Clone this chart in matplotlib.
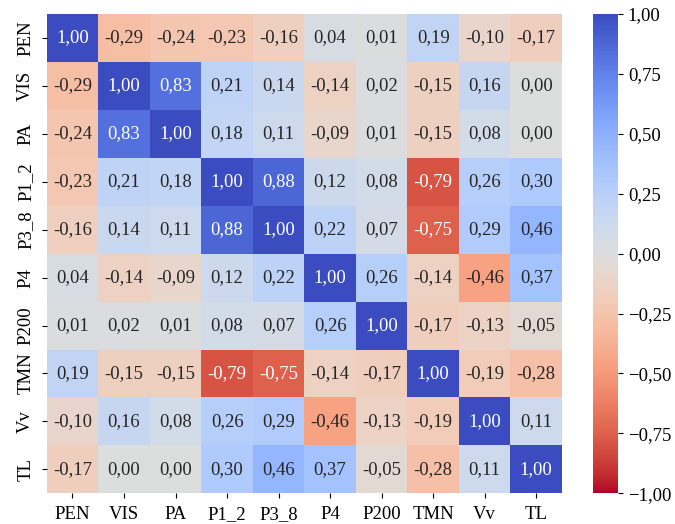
import numpy as np
import matplotlib
matplotlib.use("Agg")
import matplotlib.pyplot as plt
import seaborn as sns
from matplotlib.ticker import FuncFormatter

labels = ["PEN", "VIS", "PA", "P1_2", "P3_8", "P4", "P200", "TMN", "Vv", "TL"]

pen  = [1.00, -0.29, -0.24, -0.23, -0.16, 0.04, 0.01, 0.19, -0.10, -0.17]
vis  = [-0.29, 1.00, 0.83, 0.21, 0.14, -0.14, 0.02, -0.15, 0.16, 0.00]
pa   = [-0.24, 0.83, 1.00, 0.18, 0.11, -0.09, 0.01, -0.15, 0.08, 0.00]
p1_2 = [-0.23, 0.21, 0.18, 1.00, 0.88, 0.12, 0.08, -0.79, 0.26, 0.30]
p3_8 = [-0.16, 0.14, 0.11, 0.88, 1.00, 0.22, 0.07, -0.75, 0.29, 0.46]
p4   = [0.04, -0.14, -0.09, 0.12, 0.22, 1.00, 0.26, -0.14, -0.46, 0.37]
p200 = [0.01, 0.02, 0.01, 0.08, 0.07, 0.26, 1.00, -0.17, -0.13, -0.05]
tmn  = [0.19, -0.15, -0.15, -0.79, -0.75, -0.14, -0.17, 1.00, -0.19, -0.28]
vv   = [-0.10, 0.16, 0.08, 0.26, 0.29, -0.46, -0.13, -0.19, 1.00, 0.11]
tl   = [-0.17, 0.00, 0.00, 0.30, 0.46, 0.37, -0.05, -0.28, 0.11, 1.00]

cbar_ticks = [-1.0, -0.75, -0.5, -0.25, 0.0, 0.25, 0.5, 0.75, 1.0]

data = np.array([pen, vis, pa, p1_2, p3_8, p4, p200, tmn, vv, tl])
annot = np.array([[f"{v:.2f}".replace(".", ",") for v in row] for row in data])

plt.rcParams['font.family'] = ['Liberation Serif', 'DejaVu Serif']
FS = 13.5

fig = plt.figure(figsize=(6.75, 5.24), dpi=100)
ax = fig.add_axes([0.0692, 0.0586, 0.7634, 0.9147])
cax = fig.add_axes([0.8781, 0.0586, 0.0375, 0.9147])

sns.heatmap(data, ax=ax, cbar_ax=cax, cmap="coolwarm_r", vmin=-1, vmax=1,
            annot=annot, fmt="", annot_kws={"fontsize": FS},
            xticklabels=labels, yticklabels=labels)

ax.tick_params(axis='x', labelsize=FS, pad=6)
ax.tick_params(axis='y', labelsize=FS, pad=5.5)
ax.set_yticklabels(labels, rotation=90, va='center', fontsize=FS)
ax.set_xticklabels(labels, rotation=0, fontsize=FS)

cax.set_yticks(cbar_ticks)
cax.yaxis.set_major_formatter(FuncFormatter(lambda v, p: f"{v:.2f}".replace(".", ",").replace("-", "\u2212")))
cax.tick_params(labelsize=FS)

fig.savefig("out.png", dpi=100)
